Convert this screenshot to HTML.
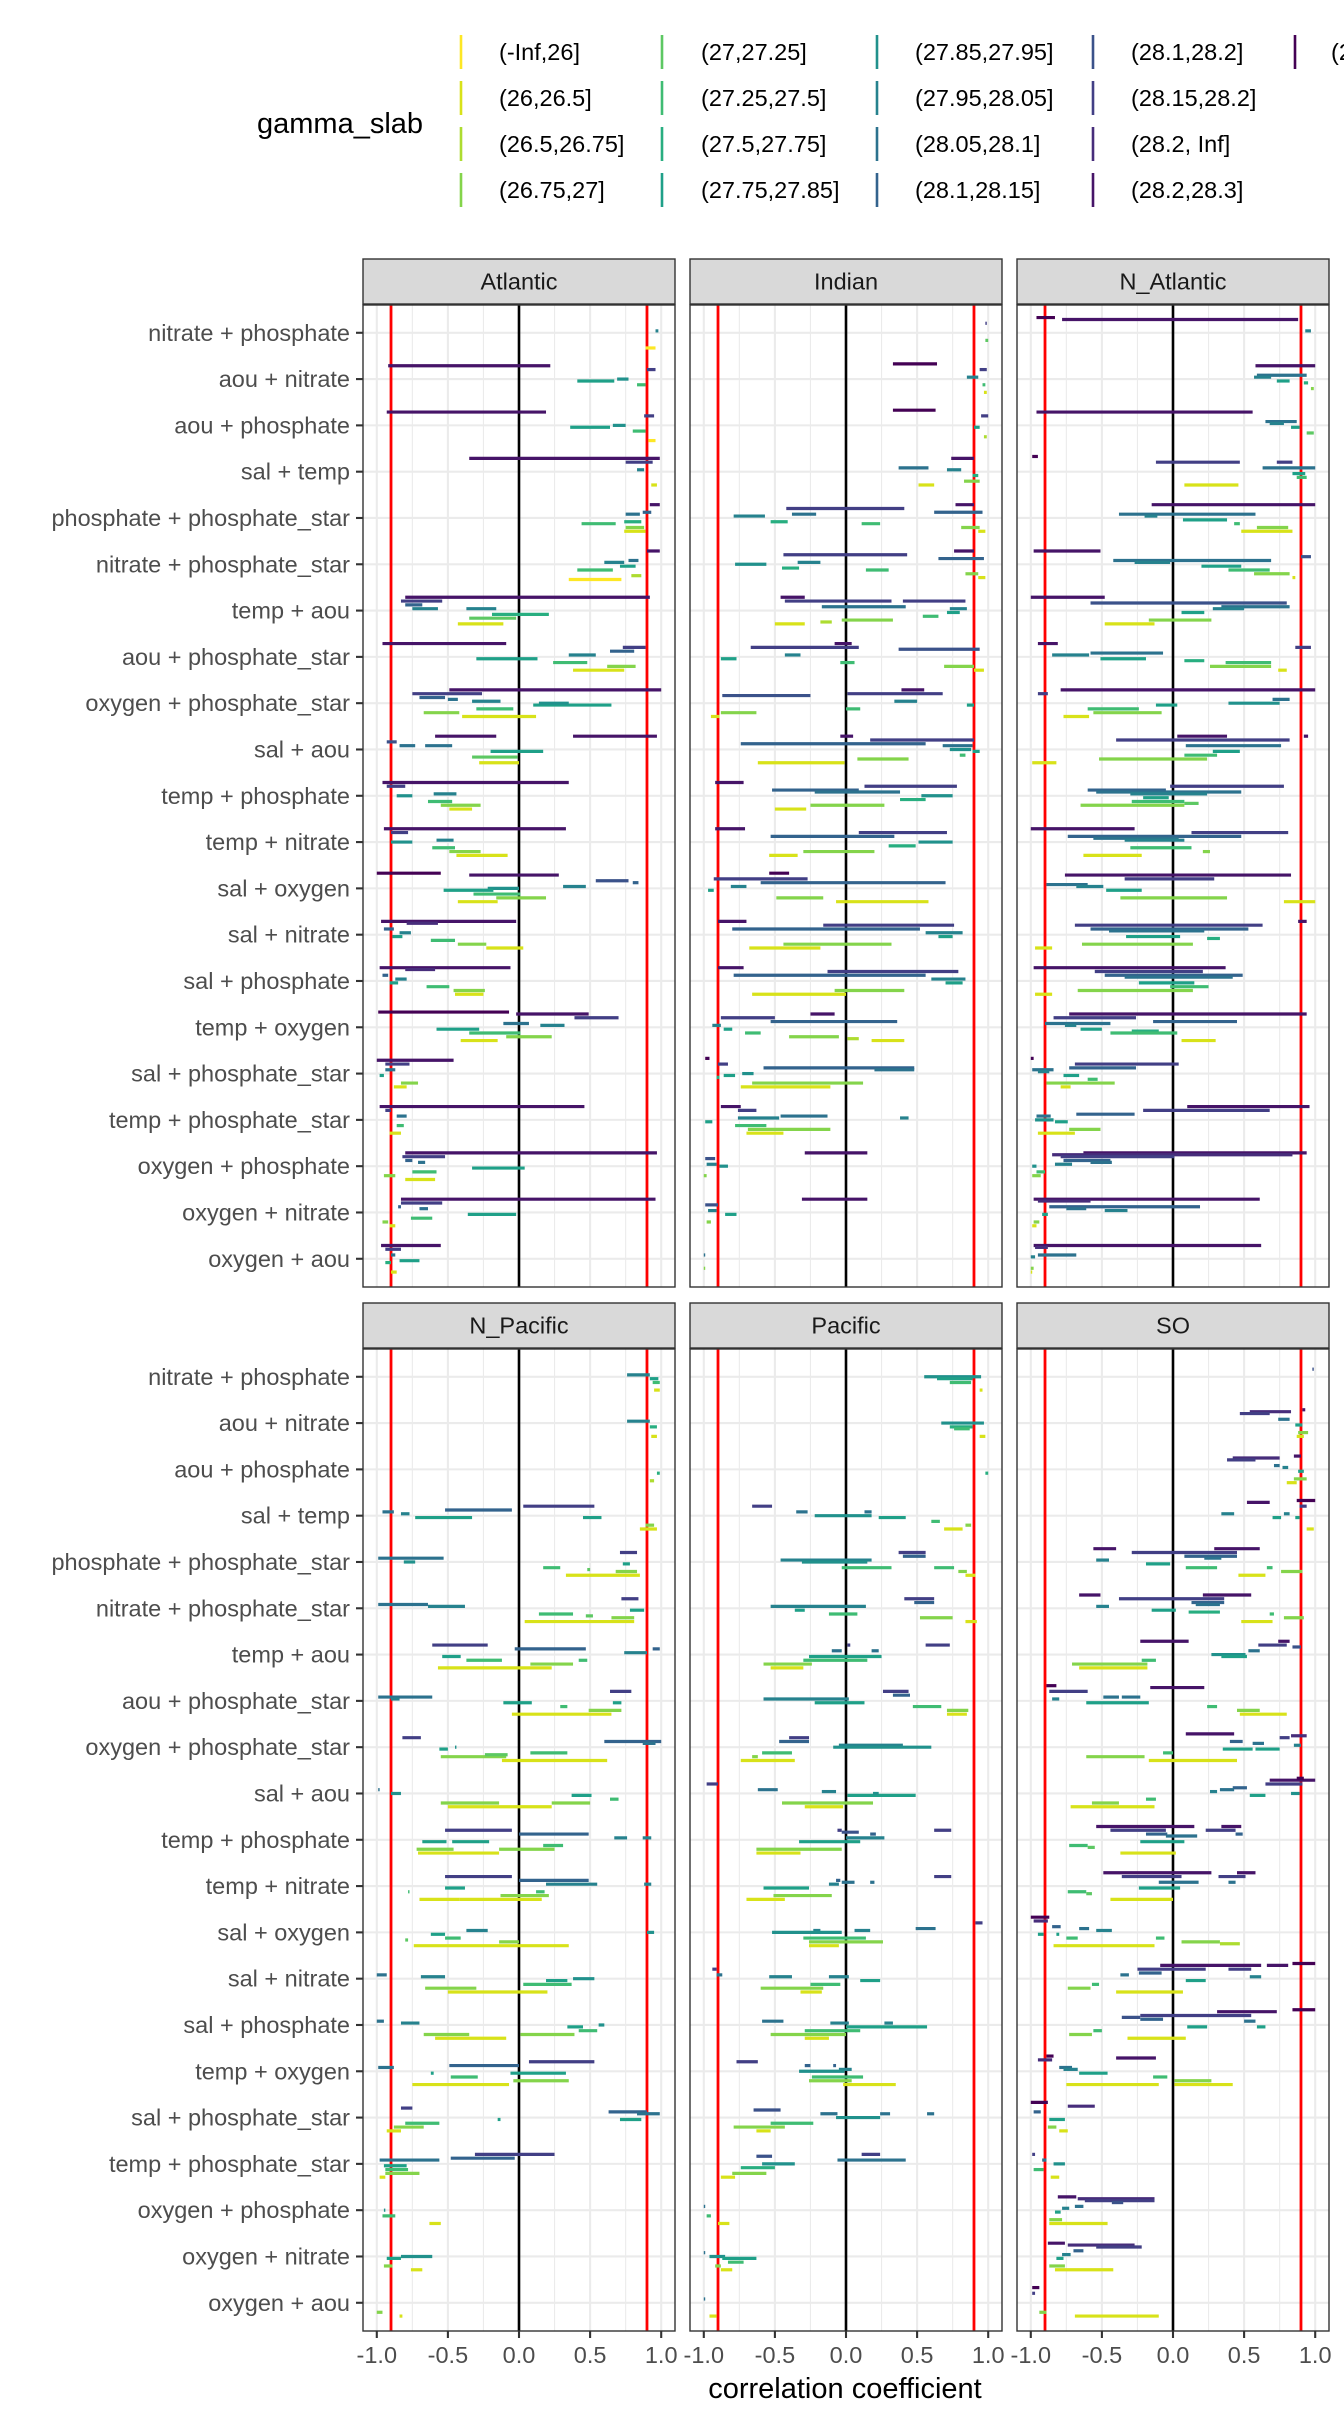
<!DOCTYPE html>
<html><head><meta charset="utf-8"><style>
html,body{margin:0;padding:0;background:#fff;}
svg{display:block;font-family:"Liberation Sans",Arial,sans-serif;}
</style></head><body>
<svg id="chart" xmlns="http://www.w3.org/2000/svg" width="1344" height="2419" viewBox="0 0 1344 2419">
<rect width="1344" height="2419" fill="#fff"/>
<g id="legend"></g>
<g id="panels"></g>
<text x="845" y="2398" font-size="29" text-anchor="middle" fill="#000">correlation coefficient</text>
</svg>
<script>
const categories = ["nitrate + phosphate","aou + nitrate","aou + phosphate","sal + temp","phosphate + phosphate_star","nitrate + phosphate_star","temp + aou","aou + phosphate_star","oxygen + phosphate_star","sal + aou","temp + phosphate","temp + nitrate","sal + oxygen","sal + nitrate","sal + phosphate","temp + oxygen","sal + phosphate_star","temp + phosphate_star","oxygen + phosphate","oxygen + nitrate","oxygen + aou"];
const levelLabels = ["(-Inf,26]","(26,26.5]","(26.5,26.75]","(26.75,27]","(27,27.25]","(27.25,27.5]","(27.5,27.75]","(27.75,27.85]","(27.85,27.95]","(27.95,28.05]","(28.05,28.1]","(28.1,28.15]","(28.1,28.2]","(28.15,28.2]","(28.2, Inf]","(28.2,28.3]","(28.3, Inf]"];
const levelColors = ["#FDE725","#D8E219","#ADDC30","#84D44B","#5DC863","#3FBC73","#28AE80","#1FA088","#21918C","#26828E","#2C728E","#33638D","#3B528A","#423F85","#472D7B","#461468","#440154"];
const panelNames = ["Atlantic","Indian","N_Atlantic","N_Pacific","Pacific","SO"];
const xTicks = [-1,-0.5,0,0.5,1];
const xTickLabels = ["-1.0","-0.5","0.0","0.5","1.0"];
const xMinor = [-0.75,-0.25,0.25,0.75];
const thresholds = [-0.9,0.9];
// segments: [category index, level, lower, upper]
const atlantic = [
[0,9,.96,.98],[0,0,.89,.96],
[1,15,-.92,.22],[1,13,.9,.96],[1,7,.41,.67],[1,8,.69,.77],[1,5,.83,.89],
[2,15,-.93,.19],[2,13,.88,.95],[2,7,.36,.64],[2,8,.66,.75],[2,5,.8,.89],[2,0,.91,.96],
[3,15,-.35,.99],[3,13,.75,.94],[3,9,.83,.88],[3,1,.93,.97],
[4,15,.92,.99],[4,10,.75,.85],[4,11,.87,.93],[4,6,.74,.86],[4,5,.44,.68],[4,1,.74,.89],[4,3,.75,.88],
[5,15,.9,.99],[5,9,.6,.74],[5,10,.77,.84],[5,7,.71,.82],[5,5,.41,.66],[5,0,.35,.72],[5,2,.79,.86],
[6,15,-.8,.92],[6,13,-.83,-.54],[6,11,-.8,-.68],[6,9,-.75,-.57],[6,9,-.37,-.16],[6,6,-.19,.21],[6,4,-.35,-.02],[6,1,-.43,-.11],
[7,15,-.96,-.09],[7,13,.73,.89],[7,11,.64,.81],[7,9,.35,.54],[7,7,-.3,.13],[7,5,.24,.48],[7,1,.38,.74],[7,3,.62,.82],
[8,15,-.49,1.0],[8,13,-.75,-.26],[8,11,-.7,-.52],[8,9,-.33,-.13],[8,10,-.5,-.43],[8,7,.1,.65],[8,8,.14,.35],[8,5,-.3,-.04],[8,3,-.67,-.42],[8,1,-.4,.12],
[9,15,-.59,-.16],[9,15,.38,.97],[9,12,-.93,-.86],[9,10,-.84,-.73],[9,10,-.66,-.47],[9,7,-.2,.17],[9,4,-.33,-.01],[9,1,-.28,0],
[10,15,-.96,.35],[10,13,-.93,-.8],[10,9,-.6,-.44],[10,8,-.86,-.75],[10,5,-.64,-.47],[10,3,-.55,-.27],[10,1,-.49,-.33],
[11,15,-.95,.33],[11,13,-.9,-.78],[11,9,-.58,-.46],[11,8,-.9,-.75],[11,5,-.61,-.45],[11,3,-.49,-.27],[11,1,-.44,-.08],
[12,16,-1.0,-.55],[12,15,-.35,.28],[12,12,.54,.77],[12,11,.8,.84],[12,9,.31,.47],[12,8,-.22,0],[12,7,-.53,-.18],[12,5,-.32,.01],[12,3,-.16,.19],[12,1,-.43,-.15],
[13,15,-.97,-.02],[13,14,-.79,-.57],[13,11,-.95,-.88],[13,9,-.84,-.76],[13,7,-.89,-.82],[13,5,-.62,-.45],[13,3,-.43,-.23],[13,1,-.23,.03],
[14,15,-.98,-.06],[14,14,-.8,-.59],[14,11,-.96,-.92],[14,9,-.87,-.79],[14,7,-.91,-.85],[14,5,-.65,-.49],[14,3,-.46,-.24],[14,1,-.45,-.25],
[15,16,-.99,-.07],[15,15,-.02,.49],[15,13,.39,.7],[15,10,-.11,.07],[15,9,.15,.32],[15,7,-.58,-.28],[15,5,-.35,.01],[15,3,-.09,.23],[15,1,-.41,-.15],
[16,15,-1,-.46],[16,13,-.94,-.77],[16,10,-.94,-.87],[16,7,-.98,-.95],[16,3,-.83,-.71],[16,1,-.88,-.79],
[17,15,-.98,.46],[17,13,-.94,-.9],[17,10,-.86,-.79],[17,5,-.86,-.81],[17,1,-.91,-.83],
[18,15,-.8,.97],[18,13,-.82,-.52],[18,11,-.8,-.75],[18,10,-.71,-.66],[18,7,-.33,.04],[18,5,-.75,-.58],[18,3,-.95,-.87],[18,1,-.8,-.59],
[19,15,-.83,.96],[19,13,-.83,-.54],[19,11,-.85,-.83],[19,10,-.7,-.64],[19,7,-.36,-.02],[19,5,-.76,-.61],[19,3,-.96,-.92],[19,1,-.91,-.87],
[20,15,-.97,-.55],[20,13,-.94,-.83],[20,10,-.9,-.87],[20,7,-.84,-.7],[20,6,-.94,-.9],[20,1,-.9,-.86]];
const indian = [
[0,13,.98,.99],[0,4,.98,1.0],
[1,16,.33,.64],[1,13,.94,.99],[1,9,.85,.93],[1,5,.96,.98],[1,1,.97,.99],
[2,16,.33,.63],[2,13,.95,1.0],[2,7,.9,.94],[2,2,.97,.99],
[3,15,.74,.9],[3,10,.37,.58],[3,9,.71,.81],[3,6,.89,.93],[3,3,.83,.94],[3,1,.51,.62],
[4,13,-.42,.41],[4,15,.77,.9],[4,11,.62,.96],[4,9,-.79,-.57],[4,10,-.38,-.21],[4,6,-.53,-.41],[4,5,.11,.24],[4,3,.81,.94],[4,1,.93,.98],
[5,13,-.44,.43],[5,15,.76,.9],[5,11,.65,.97],[5,9,-.34,-.18],[5,8,-.78,-.56],[5,6,-.45,-.33],[5,5,.14,.3],[5,3,.84,.93],[5,1,.93,.98],
[6,15,-.46,-.29],[6,13,-.43,.32],[6,13,.4,.84],[6,10,-.17,.42],[6,9,.73,.85],[6,7,.71,.8],[6,5,.54,.65],[6,3,-.03,.33],[6,2,-.18,-.1],[6,1,-.5,-.29],
[7,13,-.67,.09],[7,15,-.08,.04],[7,12,.37,.94],[7,9,-.43,-.32],[7,7,-.88,-.77],[7,5,-.04,.06],[7,3,.69,.9],[7,1,.9,.97],
[8,13,.01,.68],[8,15,.39,.55],[8,12,-.87,-.25],[8,9,.34,.5],[8,7,.85,.9],[8,5,0,.1],[8,3,-.88,-.63],[8,1,-.95,-.89],
[9,15,-.04,.05],[9,13,.17,.9],[9,11,-.74,.56],[9,10,.68,.89],[9,8,.73,.88],[9,7,.89,.94],[9,5,.8,.84],[9,3,.08,.44],[9,1,-.62,-.01],
[10,13,.13,.78],[10,15,-.92,-.72],[10,11,-.52,.09],[10,10,-.22,.38],[10,8,.53,.75],[10,6,.38,.56],[10,3,-.25,.27],[10,1,-.5,-.28],
[11,15,-.92,-.71],[11,13,.09,.71],[11,11,-.53,.34],[11,8,.51,.75],[11,6,.3,.49],[11,3,-.3,.2],[11,1,-.54,-.34],
[12,16,-.54,-.4],[12,13,-.93,-.27],[12,11,-.6,.7],[12,9,-.81,-.7],[12,7,-.97,-.93],[12,3,-.49,-.16],[12,1,-.07,.58],
[13,15,-.9,-.7],[13,13,-.16,.76],[13,11,-.8,.52],[13,9,.56,.82],[13,7,.65,.75],[13,3,-.44,.32],[13,1,-.68,-.18],
[14,15,-.9,-.72],[14,13,-.13,.79],[14,11,-.79,.56],[14,9,.6,.84],[14,7,.7,.82],[14,3,-.08,.41],[14,1,-.66,0],
[15,13,-.88,-.5],[15,15,-.25,-.08],[15,11,-.53,.36],[15,9,-.94,-.88],[15,7,-.86,-.8],[15,5,-.71,-.6],[15,3,-.4,-.05],[15,2,.01,.09],[15,1,.18,.41],
[16,16,-.99,-.96],[16,13,-.9,-.83],[16,11,-.58,.48],[16,10,.2,.48],[16,7,-.86,-.78],[16,8,-.73,-.65],[16,6,-.91,-.89],[16,3,-.66,.12],[16,1,-.74,-.11],
[17,15,-.88,-.74],[17,13,-.76,-.63],[17,10,-.46,-.13],[17,9,-.76,-.47],[17,9,.38,.44],[17,7,-.99,-.94],[17,5,-.78,-.56],[17,3,-.69,-.11],[17,1,-.7,-.44],
[18,15,-.29,.15],[18,12,-.99,-.92],[18,9,-.98,-.91],[18,8,-.89,-.83],[18,3,-1,-.98],
[19,15,-.31,.15],[19,12,-.99,-.9],[19,9,-.97,-.91],[19,7,-.85,-.77],[19,3,-.98,-.95],
[20,10,-1.0,-.99],[20,3,-1.0,-.99]];
const nAtlantic = [
[0,16,-.96,-.83],[0,15,-.78,.88],[0,9,.93,.97],
[1,15,.58,1.0],[1,10,.59,.94],[1,9,.57,.69],[1,7,.73,.82],[1,6,.92,.95],[1,3,.97,.99],
[2,15,-.96,.56],[2,10,.65,.87],[2,9,.68,.78],[2,7,.83,.89],[2,4,.94,.99],
[3,16,-.99,-.95],[3,13,-.12,.47],[3,13,.73,.84],[3,10,.63,1.0],[3,7,.84,.93],[3,5,.87,.94],[3,1,.08,.46],
[4,15,-.15,1.0],[4,10,-.38,.58],[4,9,-.2,-.11],[4,7,.07,.38],[4,5,.43,.47],[4,3,.59,.81],[4,1,.48,.84],
[5,15,-.98,-.51],[5,10,-.42,.69],[5,9,-.27,-.02],[5,7,.2,.48],[5,5,.39,.68],[5,3,.57,.82],[5,12,.9,.97],[5,1,.84,.86],
[6,15,-1.0,-.48],[6,12,-.58,.8],[6,10,.34,.82],[6,9,.28,.5],[6,7,.06,.22],[6,3,-.17,.27],[6,1,-.48,-.13],
[7,15,-.95,-.81],[7,10,-.58,-.07],[7,9,-.85,-.59],[7,7,-.51,-.19],[7,6,.08,.22],[7,5,.37,.69],[7,3,.26,.69],[7,1,.74,.8],[7,13,.86,.97],
[8,15,-.79,1.0],[8,13,-.95,-.88],[8,10,.7,.82],[8,8,.39,.75],[8,7,-.12,.03],[8,5,-.6,-.24],[8,3,-.56,-.08],[8,1,-.77,-.59],
[9,15,.03,.38],[9,13,-.4,.82],[9,10,.09,.76],[9,7,.28,.47],[9,5,.08,.31],[9,3,-.52,.24],[9,1,-.99,-.82],[9,15,.92,.95],
[10,13,-.02,.78],[10,11,-.6,-.05],[10,10,-.54,.48],[10,9,-.3,.24],[10,7,-.21,-.03],[10,5,-.29,.08],[10,3,-.65,.08],[10,4,.08,.18],
[11,15,-1.0,-.27],[11,13,.13,.81],[11,11,-.74,.48],[11,10,-.56,.04],[11,9,-.34,.08],[11,5,-.3,.13],[11,3,.21,.26],[11,1,-.63,-.22],
[12,15,-.76,.83],[12,13,-.34,.29],[12,10,-.89,-.6],[12,9,-.68,-.49],[12,7,-.47,-.22],[12,3,-.37,.38],[12,1,.78,1.0],
[13,13,-.69,.63],[13,15,.88,.94],[13,11,-.58,.53],[13,10,-.45,.22],[13,7,-.33,.05],[13,6,.24,.33],[13,1,-.97,-.85],[13,3,-.64,.14],
[14,15,-.98,.37],[14,13,-.55,.21],[14,11,-.48,.49],[14,10,-.34,.42],[14,7,-.24,.15],[14,5,-.02,.25],[14,3,-.67,.14],[14,1,-.97,-.85],
[15,15,-.73,.94],[15,13,-.84,-.26],[15,11,-.14,.45],[15,10,-.9,-.44],[15,9,-.76,-.68],[15,7,-.65,-.5],[15,6,-.29,-.1],[15,5,-.44,.03],[15,1,.06,.3],
[16,16,-1.0,-.98],[16,13,-.69,.04],[16,11,-.73,-.26],[16,10,-.99,-.84],[16,9,-.95,-.87],[16,7,-.77,-.66],[16,5,-.6,-.53],[16,3,-.89,-.41],[16,1,-.79,-.72],
[17,15,.1,.96],[17,13,-.21,.68],[17,11,-.68,-.27],[17,10,-.96,-.86],[17,8,-.97,-.84],[17,7,-.83,-.74],[17,3,-.73,-.51],[17,1,-.95,-.69],
[18,15,-.63,.94],[18,14,-.85,.84],[18,13,-.79,.01],[18,11,-.77,-.44],[18,10,-.58,-.43],[18,9,-.83,-.71],[18,8,-.99,-.96],[18,5,-.96,-.9],[18,3,-.99,-.93],
[19,15,-.98,.61],[19,14,-.95,-.58],[19,11,-.87,.19],[19,10,-.75,-.61],[19,9,-.48,-.32],[19,7,-.92,-.88],[19,3,-.98,-.94],[19,1,-.99,-.96],
[20,15,-.98,.62],[20,14,-.97,-.88],[20,10,-.95,-.68],[20,9,-1.0,-.97],[20,3,-1.0,-.98],[20,1,-1.0,-.99]];
const nPacific = [
[0,9,.76,.92],[0,7,.92,.98],[0,5,.94,.99],[0,1,.95,.99],
[1,9,.76,.92],[1,6,.92,.97],[1,1,.93,.97],
[2,2,.92,.95],[2,6,.97,.99],
[3,13,.03,.53],[3,11,-.52,-.05],[3,9,-.83,-.77],[3,10,-.96,-.88],[3,7,-.73,-.33],[3,7,.45,.58],[3,3,.89,.95],[3,1,.85,.97],
[4,13,.71,.83],[4,10,-.99,-.53],[4,8,-.81,-.73],[4,5,.17,.29],[4,7,.73,.78],[4,3,.68,.83],[4,1,.33,.85],[4,4,.48,.5],
[5,13,.72,.84],[5,10,-.99,-.64],[5,9,-.64,-.38],[5,7,.78,.88],[5,5,.14,.38],[5,3,.65,.81],[5,1,.04,.81],[5,4,.47,.52],
[6,13,-.61,-.22],[6,11,-.03,.47],[6,11,.94,.99],[6,9,.74,.9],[6,7,-.54,-.41],[6,5,-.37,-.12],[6,5,.42,.48],[6,3,.08,.38],[6,1,-.57,.23],
[7,13,.64,.79],[7,10,-.99,-.61],[7,9,-.9,-.84],[7,7,-.11,.09],[7,7,.66,.72],[7,5,.29,.34],[7,3,.49,.72],[7,1,-.05,.65],
[8,13,-.82,-.69],[8,11,.6,1.0],[8,10,.87,.96],[8,7,-.56,-.5],[8,8,-.45,-.44],[8,5,.08,.34],[8,3,-.55,-.09],[8,4,-.24,-.08],[8,1,-.12,.62],
[9,10,-.99,-.98],[9,8,-.9,-.83],[9,7,.37,.51],[9,5,.64,.7],[9,3,.23,.5],[9,3,-.55,-.14],[9,1,-.5,.23],
[10,13,-.52,-.05],[10,11,0,.49],[10,9,.67,.76],[10,9,.87,.93],[10,7,-.68,-.51],[10,7,-.47,-.21],[10,5,.17,.31],[10,3,-.14,.25],[10,3,-.72,-.46],[10,1,-.71,-.14],
[11,13,-.52,-.05],[11,11,0,.49],[11,9,.19,.55],[11,9,.88,.93],[11,7,-.52,-.38],[11,5,-.78,-.77],[11,5,.12,.18],[11,3,-.13,.21],[11,1,-.7,-.42],[11,1,-.42,.16],
[12,8,.9,.95],[12,9,-.37,-.22],[12,7,-.62,-.52],[12,5,-.52,-.41],[12,3,-.14,0],[12,1,-.74,.35],[12,4,-.8,-.78],
[13,10,-1.0,-.93],[13,9,-.69,-.52],[13,8,.38,.53],[13,7,.19,.34],[13,5,.03,.37],[13,3,-.66,-.3],[13,1,-.5,.2],
[14,10,-1.0,-.95],[14,9,-.83,-.7],[14,8,.56,.6],[14,7,.34,.45],[14,5,.42,.55],[14,3,.01,.39],[14,3,-.67,-.35],[14,1,-.59,-.09],
[15,13,.07,.53],[15,11,-.49,0],[15,10,-.99,-.88],[15,7,-.06,.33],[15,7,-.62,-.6],[15,5,-.48,-.29],[15,3,-.04,.35],[15,1,-.75,-.07],
[16,13,-.83,-.75],[16,11,.63,.9],[16,10,.83,.99],[16,7,.71,.86],[16,7,-.15,-.13],[16,5,-.8,-.56],[16,3,-.88,-.67],[16,1,-.93,-.83],
[17,13,-.31,.25],[17,11,-.48,-.03],[17,10,-.98,-.56],[17,7,-.95,-.79],[17,5,-.94,-.78],[17,3,-.94,-.7],[17,1,-.98,-.94],
[18,8,-.95,-.94],[18,5,-.96,-.87],[18,1,-.63,-.55],
[19,8,-.83,-.61],[19,7,-.93,-.83],[19,3,-.95,-.89],[19,1,-.76,-.68],
[20,3,-1.0,-.96],[20,1,-.84,-.82]];
const pacific = [
[0,8,.55,.95],[0,7,.64,.89],[0,5,.73,.88],[0,1,.94,.96],
[1,8,.67,.97],[1,6,.73,.89],[1,5,.76,.87],[1,1,.94,.98],
[2,6,.98,1.0],
[3,13,-.66,-.52],[3,10,-.35,-.27],[3,10,.13,.18],[3,8,-.22,.18],[3,7,.23,.42],[3,5,.6,.66],[3,3,.84,.88],[3,1,.69,.82],
[4,13,.37,.56],[4,11,.4,.56],[4,9,-.46,.18],[4,8,-.31,.15],[4,5,-.03,.32],[4,5,.62,.76],[4,3,.79,.85],[4,1,.84,.91],
[5,13,.41,.62],[5,11,.48,.62],[5,9,-.53,.14],[5,7,-.36,-.29],[5,5,-.12,.08],[5,3,.52,.75],[5,1,.84,.92],
[6,13,.56,.73],[6,10,-.1,-.03],[6,10,.18,.23],[6,7,-.26,.25],[6,5,-.3,.15],[6,3,-.58,-.24],[6,1,-.53,-.3],[6,13,.01,.03],
[7,13,.26,.44],[7,11,.33,.45],[7,9,-.58,.02],[7,7,-.22,.13],[7,5,.47,.67],[7,3,.71,.86],[7,1,.71,.85],
[8,13,-.4,-.26],[8,11,-.47,-.26],[8,9,-.05,.4],[8,8,-.09,.6],[8,5,-.59,-.38],[8,3,-.66,-.62],[8,1,-.74,-.36],
[9,13,-.98,-.9],[9,10,-.62,-.48],[9,9,-.17,-.07],[9,7,.01,.49],[9,8,.19,.23],[9,3,-.45,.19],[9,1,-.29,-.02],
[10,13,-.06,-.03],[10,12,-.03,.09],[10,11,.17,.21],[10,9,0,.27],[10,7,-.33,.1],[10,3,-.63,-.03],[10,1,-.63,-.32],[10,13,.62,.74],
[11,13,.62,.74],[11,11,-.07,-.04],[11,10,-.03,.06],[11,10,.17,.2],[11,9,-.12,-.05],[11,7,-.58,-.26],[11,3,-.51,-.1],[11,1,-.7,-.43],
[12,13,.91,.96],[12,10,.49,.63],[12,9,.06,.17],[12,9,-.23,-.18],[12,8,-.52,-.03],[12,5,-.3,.14],[12,3,-.26,.26],[12,1,-.26,-.05],
[13,13,-.94,-.91],[13,10,-.91,-.87],[13,9,-.54,-.38],[13,9,-.12,.02],[13,7,.1,.24],[13,5,-.25,-.04],[13,3,-.6,-.16],[13,1,-.32,-.17],
[14,10,-.59,-.44],[14,9,-.11,.02],[14,9,.27,.33],[14,7,0,.57],[14,5,-.29,.1],[14,3,-.53,0],[14,1,-.29,-.12],
[15,13,-.77,-.62],[15,11,-.29,-.25],[15,11,-.09,-.07],[15,9,-.05,.04],[15,8,-.33,-.01],[15,5,-.24,.12],[15,3,-.26,.04],[15,1,-.02,.35],
[16,12,-.65,-.46],[16,10,-.18,-.06],[16,10,.24,.31],[16,10,.57,.62],[16,8,-.07,.24],[16,5,-.53,-.23],[16,3,-.79,-.43],[16,1,-.63,-.53],
[17,13,.11,.24],[17,12,-.63,-.52],[17,10,-.06,.42],[17,8,-.59,-.36],[17,6,-.74,-.5],[17,3,-.8,-.56],[17,1,-.88,-.78],
[18,10,-1,-.99],[18,5,-.98,-.95],[18,1,-.9,-.82],
[19,10,-1,-.99],[19,8,-.96,-.85],[19,7,-.87,-.63],[19,5,-.83,-.72],[19,3,-.92,-.88],[19,1,-.88,-.8],
[20,1,-.96,-.91],[20,10,-1,-.99]];
const southernOcean = [
[0,12,.98,.99],
[1,14,.54,.83],[1,13,.47,.68],[1,10,.74,.82],[1,15,.91,.93],[1,7,.86,.91],[1,3,.88,.95],[1,1,.87,.92],
[2,14,.42,.75],[2,13,.38,.58],[2,10,.71,.75],[2,9,.77,.81],[2,15,.85,.9],[2,7,.88,.92],[2,3,.85,.94],[2,1,.8,.87],
[3,15,.52,.68],[3,16,.87,1.0],[3,13,.89,.94],[3,9,.34,.43],[3,9,.78,.82],[3,7,.7,.76],[3,7,.86,.89],[3,1,.94,.99],
[4,15,-.56,-.4],[4,15,.29,.61],[4,13,-.29,.45],[4,11,.08,.45],[4,10,.22,.34],[4,9,-.54,-.45],[4,7,-.19,-.02],[4,5,.09,.31],[4,5,.66,.7],[4,3,.76,.91],[4,1,.46,.65],
[5,15,-.66,-.51],[5,15,.21,.55],[5,13,-.38,.36],[5,11,.13,.36],[5,10,.16,.33],[5,9,-.54,-.45],[5,7,-.15,.02],[5,6,.11,.33],[5,5,.68,.71],[5,3,.78,.92],[5,1,.48,.7],
[6,15,-.23,.11],[6,15,.74,.82],[6,13,.6,.8],[6,12,.84,.9],[6,10,.53,.61],[6,8,.27,.51],[6,7,.34,.52],[6,5,-.22,-.12],[6,3,-.71,-.18],[6,1,-.66,-.18],
[7,16,-.89,-.82],[7,15,-.16,.22],[7,13,-.87,-.6],[7,10,-.49,-.38],[7,10,-.36,-.23],[7,9,-.85,-.8],[7,7,-.61,-.17],[7,5,.24,.31],[7,3,.45,.61],[7,1,.47,.8],
[8,15,.09,.43],[8,14,.83,.94],[8,13,.75,.82],[8,11,.4,.49],[8,10,.56,.64],[8,9,.85,.9],[8,7,.35,.56],[8,7,.58,.75],[8,5,-.07,0],[8,3,-.61,-.2],[8,1,-.17,.45],
[9,15,.68,1.0],[9,16,.87,.92],[9,13,.65,.91],[9,11,.42,.52],[9,10,.33,.43],[9,9,.26,.31],[9,7,.54,.65],[9,8,.83,.89],[9,5,-.19,-.12],[9,3,-.57,-.38],[9,1,-.72,-.13],
[10,15,-.54,.15],[10,15,.34,.48],[10,13,-.44,-.05],[10,13,.23,.44],[10,11,-.19,-.04],[10,10,-.05,.17],[10,7,-.23,.08],[10,5,-.73,-.6],[10,4,-.6,-.55],[10,1,-.37,.02],[10,11,.44,.49],
[11,15,-.49,.27],[11,15,.45,.58],[11,13,-.36,.06],[11,13,.32,.51],[11,10,-.1,.18],[11,10,.39,.44],[11,7,-.24,.05],[11,5,-.74,-.61],[11,4,-.61,-.57],[11,1,-.44,0],
[12,16,-1,-.87],[12,14,-.98,-.88],[12,11,-.85,-.79],[12,10,-.66,-.59],[12,9,-.54,-.43],[12,7,-.95,-.91],[12,7,-.82,-.8],[12,5,-.75,-.67],[12,5,-.12,-.06],[12,3,.06,.33],[12,1,-.84,-.13],[12,2,.33,.47],
[13,15,-.09,.62],[13,15,.66,.81],[13,16,.84,1.0],[13,13,-.25,.23],[13,13,.39,.55],[13,11,-.24,-.08],[13,10,-.37,-.31],[13,9,.54,.62],[13,7,.09,.23],[13,5,-.57,-.52],[13,3,-.74,-.58],[13,1,-.4,.07],
[14,15,.31,.73],[14,16,.84,1.0],[14,13,-.23,.55],[14,12,-.36,-.23],[14,11,-.23,-.07],[14,10,.5,.58],[14,7,.1,.24],[14,7,.59,.65],[14,5,-.56,-.5],[14,3,-.73,-.57],[14,1,-.32,.09],
[15,15,-.4,-.12],[15,16,-.89,-.84],[15,14,-.95,-.85],[15,10,-.8,-.71],[15,9,-.77,-.67],[15,7,-.66,-.46],[15,5,-.14,-.04],[15,3,.01,.27],[15,1,-.75,-.1],[15,1,.01,.42],
[16,16,-1,-.88],[16,14,-.74,-.55],[16,11,-.98,-.93],[16,7,-.87,-.76],[16,3,-.88,-.82],[16,1,-.8,-.74],
[17,13,-.99,-.97],[17,10,-.92,-.89],[17,8,-.84,-.76],[17,5,-.98,-.91],[17,1,-.86,-.8],
[18,15,-.81,-.68],[18,14,-.67,-.13],[18,13,-.62,-.13],[18,12,-.43,-.35],[18,10,-.69,-.63],[18,9,-.78,-.73],[18,7,-.83,-.79],[18,3,-.87,-.78],[18,1,-.87,-.46],
[19,15,-.88,-.76],[19,14,-.74,-.27],[19,13,-.54,-.22],[19,11,-.7,-.63],[19,9,-.78,-.72],[19,7,-.82,-.77],[19,3,-.87,-.76],[19,1,-.83,-.42],
[20,16,-.99,-.94],[20,13,-.99,-.97],[20,3,-.94,-.89],[20,1,-.69,-.1]];
const panelData = [atlantic, indian, nAtlantic, nPacific, pacific, southernOcean];

const NS = "http://www.w3.org/2000/svg";
function mk(tag, attrs, parent){const e=document.createElementNS(NS,tag);for(const k in attrs)e.setAttribute(k,attrs[k]);parent.appendChild(e);return e;}
const panelLefts=[363,690,1017], panelW=312, rowTops=[305,1349], panelH=982, stripH=45;
const XMIN=-1.097, XMAX=1.097, catStep=46.3, catPad=0.6*46.3, levelStep=1.9;
function xs(col,v){return panelLefts[col]+(v-XMIN)/(XMAX-XMIN)*panelW;}
function ys(row,c){return rowTops[row]+catPad+c*catStep;}

const lg=document.getElementById('legend');
const lt=mk('text',{x:257,y:133,'font-size':29,fill:'#000'},lg);lt.textContent='gamma_slab';


const colKeyX=[461,662,877,1093,1295], colTextX=[499,701,915,1131,1331], rowCY=[52,98,144,190];
levelLabels.forEach((lab,i)=>{
  const col=Math.floor(i/4), r=i%4;
  const g=mk('g',{},lg);
  
  
  mk('line',{x1:colKeyX[col],x2:colKeyX[col],y1:rowCY[r]-17,y2:rowCY[r]+17,stroke:levelColors[i],'stroke-width':2.6},g);
  const t=mk('text',{x:colTextX[col],y:rowCY[r]+8,'font-size':23.5,fill:'#000'},g);t.textContent=lab;
});

const pg=document.getElementById('panels');
panelNames.forEach((name,p)=>{
  const col=p%3,row=Math.floor(p/3);
  const L=panelLefts[col],T=rowTops[row];
  const g=mk('g',{},pg);
  
  
  const s=mk('rect',{x:L,y:T-stripH-1,width:panelW,height:stripH,fill:'#d9d9d9',stroke:'#333','stroke-width':1.4},g);
  
  
  const st=mk('text',{x:L+panelW/2,y:T-stripH/2+7,'font-size':23.5,'text-anchor':'middle',fill:'#1a1a1a'},g);st.textContent=name;
  xMinor.forEach(v=>mk('line',{x1:xs(col,v),x2:xs(col,v),y1:T,y2:T+panelH,stroke:'#ebebeb','stroke-width':1.1},g));
  xTicks.forEach(v=>mk('line',{x1:xs(col,v),x2:xs(col,v),y1:T,y2:T+panelH,stroke:'#ebebeb','stroke-width':2.1},g));
  categories.forEach((c,i)=>mk('line',{x1:L,x2:L+panelW,y1:ys(row,i),y2:ys(row,i),stroke:'#ebebeb','stroke-width':2.1},g));
  const z=mk('line',{x1:xs(col,0),x2:xs(col,0),y1:T,y2:T+panelH,stroke:'#000','stroke-width':2.6},g);
  
  
  thresholds.forEach(v=>{
    const r=mk('line',{x1:xs(col,v),x2:xs(col,v),y1:T,y2:T+panelH,stroke:'#ff0000','stroke-width':2.8},g);
    
    
  });
  panelData[p].forEach(d=>{
    const y=ys(row,d[0])+(8-d[1])*levelStep;
    const seg=mk('line',{x1:xs(col,d[2]),x2:xs(col,d[3]),y1:y,y2:y,stroke:levelColors[d[1]],'stroke-width':3.2},g);
    
    
  });
  mk('rect',{x:L,y:T,width:panelW,height:panelH,fill:'none',stroke:'#333','stroke-width':1.4},g);
  if(col===0){
    categories.forEach((c,i)=>{
      mk('line',{x1:L-7,x2:L,y1:ys(row,i),y2:ys(row,i),stroke:'#333','stroke-width':2.1},g);
      const t=mk('text',{x:L-13,y:ys(row,i)+8,'font-size':23.5,'text-anchor':'end',fill:'#4d4d4d'},g);
      t.textContent=c;
      
      
    });
  }
  if(row===1){
    xTicks.forEach((v,i)=>{
      mk('line',{x1:xs(col,v),x2:xs(col,v),y1:T+panelH,y2:T+panelH+7,stroke:'#333','stroke-width':2.1},g);
      const t=mk('text',{x:xs(col,v),y:T+panelH+32,'font-size':23.5,'text-anchor':'middle',fill:'#4d4d4d'},g);
      t.textContent=xTickLabels[i];
      
      
    });
  }
});
</script>
</body></html>
